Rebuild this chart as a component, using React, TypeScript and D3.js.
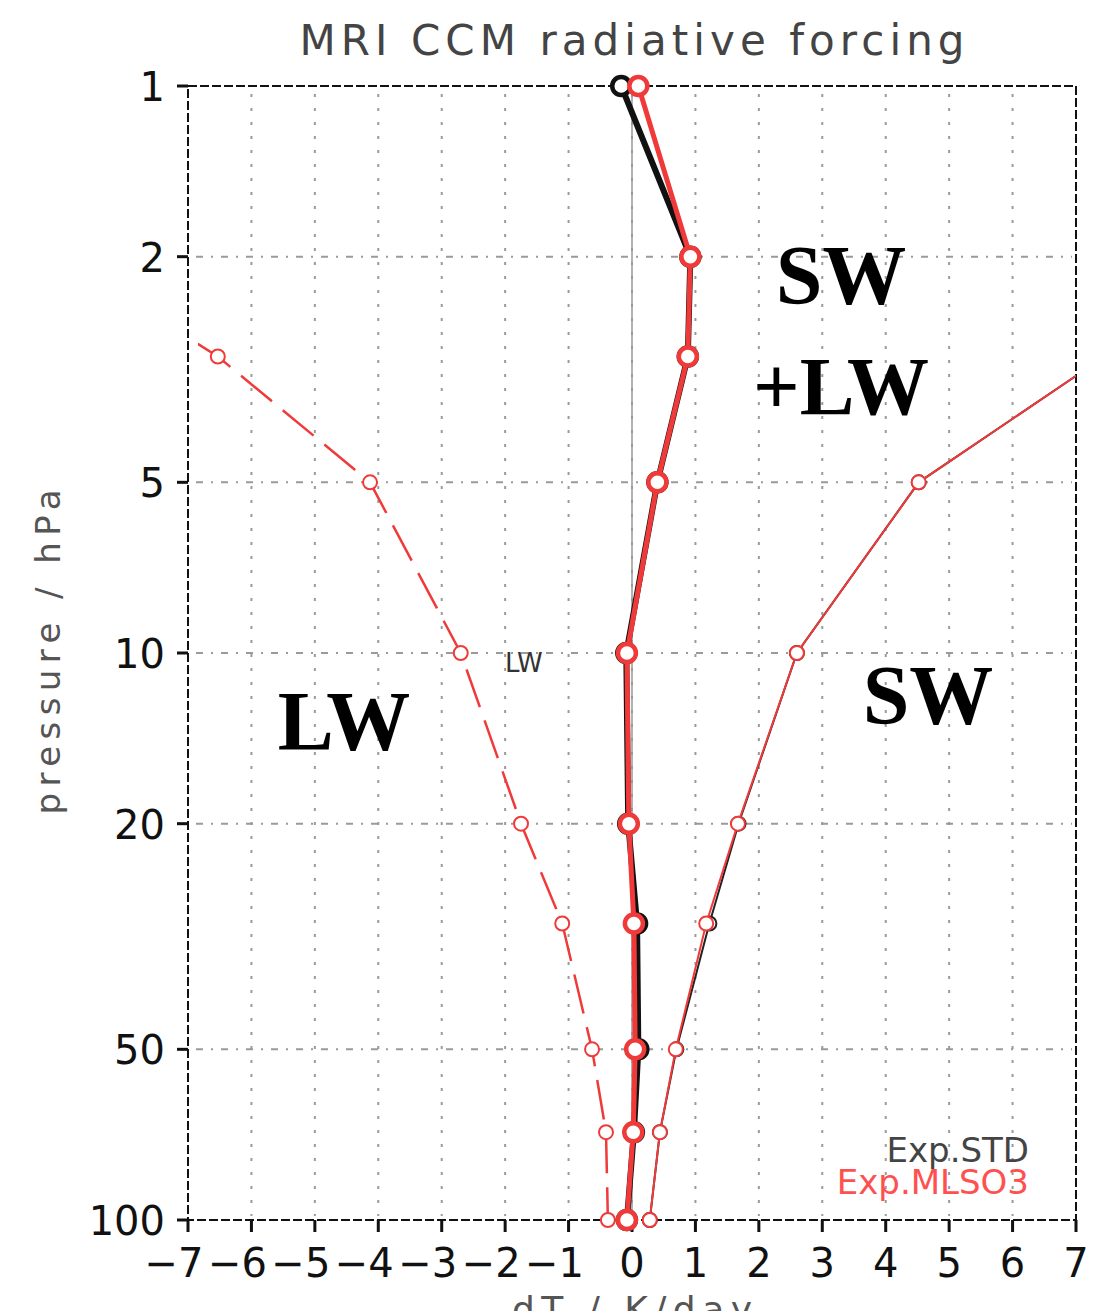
import React from "react";
import * as d3 from "d3";

const pressureLevels = [1, 2, 3, 5, 10, 20, 30, 50, 70, 100];
const totalSTD = [-0.17, 0.92, 0.88, 0.4, -0.09, -0.06, 0.08, 0.1, 0.03, -0.08];
const totalMLSO3 = [0.1, 0.92, 0.88, 0.4, -0.08, -0.05, 0.03, 0.05, 0.02, -0.08];
const swSTD = [null, null, 7.45, 4.52, 2.6, 1.68, 1.22, 0.7, 0.44, 0.28];
const swMLSO3 = [null, null, 7.45, 4.52, 2.6, 1.67, 1.17, 0.69, 0.44, 0.28];
const lwMLSO3 = [null, -9.0, -6.53, -4.13, -2.7, -1.75, -1.1, -0.63, -0.41, -0.38];
const xTicks = [-7, -6, -5, -4, -3, -2, -1, 0, 1, 2, 3, 4, 5, 6, 7];
const yTicks = [1, 2, 5, 10, 20, 50, 100];

const RED = "#f03a3a";

export default function App() {
  const left = 188, right = 1076, top = 86, bottom = 1220;
  const x = d3.scaleLinear().domain([-7, 7]).range([left, right]);
  const y = d3.scaleLog().domain([1, 100]).range([top, bottom]);

  const mk = (vals: (number | null)[]) =>
    pressureLevels
      .map((p, i) => ({ p, v: vals[i] }))
      .filter((d) => d.v !== null) as { p: number; v: number }[];

  const line = d3
    .line<{ p: number; v: number }>()
    .x((d) => x(d.v))
    .y((d) => y(d.p));

  const inside = (d: { p: number; v: number }) => d.v >= -7 && d.v <= 7;

  const series = (
    vals: (number | null)[],
    color: string,
    sw: number,
    r: number,
    msw: number,
    dash?: string
  ) => {
    const pts = mk(vals);
    return (
      <g>
        <path
          d={line(pts) || ""}
          fill="none"
          stroke={color}
          strokeWidth={sw}
          strokeDasharray={dash}
          clipPath="url(#plotclip)"
        />
        {pts.filter(inside).map((d, i) => (
          <circle
            key={i}
            cx={x(d.v)}
            cy={y(d.p)}
            r={r}
            fill="white"
            stroke={color}
            strokeWidth={msw}
          />
        ))}
      </g>
    );
  };

  const numFont = "DejaVu Sans, sans-serif";

  return (
    <svg
      width={1095}
      height={1311}
      style={{ position: "absolute", left: 0, top: 0, background: "white" }}
    >
      <defs>
        <clipPath id="plotclip">
          <rect x={left + 10} y={top - 10} width={right - left - 10} height={bottom - top + 20} />
        </clipPath>
      </defs>
      <rect x={0} y={0} width={1095} height={1311} fill="white" />

      {/* title */}
      <text
        x={632}
        y={55}
        textAnchor="middle"
        fontFamily={numFont}
        fontSize={42}
        fill="#444"
        textLength={665}
        lengthAdjust="spacing"
      >
        MRI CCM radiative forcing
      </text>

      {/* grid */}
      {xTicks
        .filter((t) => t !== -7 && t !== 7)
        .map((t) => (
          <line
            key={"gx" + t}
            x1={x(t)}
            x2={x(t)}
            y1={top + 8}
            y2={bottom - 4}
            stroke="#9a9a9a"
            strokeWidth={2}
            strokeDasharray="3,11"
          />
        ))}
      {yTicks
        .filter((t) => t !== 1 && t !== 100)
        .map((t) => (
          <line
            key={"gy" + t}
            x1={left + 8}
            x2={right - 4}
            y1={y(t)}
            y2={y(t)}
            stroke="#9a9a9a"
            strokeWidth={2}
            strokeDasharray="7,8,2,8"
          />
        ))}

      {/* zero line */}
      <line x1={x(0)} x2={x(0)} y1={top} y2={bottom} stroke="#999" strokeWidth={1.5} />

      {/* frame */}
      <rect
        x={left}
        y={top}
        width={right - left}
        height={bottom - top}
        fill="none"
        stroke="#111"
        strokeWidth={2}
        strokeDasharray="9,3"
      />

      {/* ticks */}
      {yTicks.map((t) => (
        <g key={"yt" + t}>
          <line x1={left - 11} x2={left} y1={y(t)} y2={y(t)} stroke="#111" strokeWidth={3} />
          <text
            x={165}
            y={y(t) + 15}
            textAnchor="end"
            fontFamily={numFont}
            fontSize={40}
            fill="#111"
          >
            {t}
          </text>
        </g>
      ))}
      {xTicks.map((t) => (
        <g key={"xt" + t}>
          <line x1={x(t)} x2={x(t)} y1={bottom} y2={bottom + 12} stroke="#111" strokeWidth={3} />
          <text
            x={x(t) - (t < 0 ? 14 : 0)}
            y={bottom + 57}
            textAnchor="middle"
            fontFamily={numFont}
            fontSize={40}
            fill="#111"
          >
            {t < 0 ? "\u2212" + Math.abs(t) : String(t)}
          </text>
        </g>
      ))}

      {/* axis labels */}
      <text
        x={632}
        y={1322}
        textAnchor="middle"
        fontFamily={numFont}
        fontSize={36}
        fill="#555"
        textLength={240}
        lengthAdjust="spacing"
      >
        dT / K/day
      </text>
      <text
        transform="translate(60,652) rotate(-90)"
        textAnchor="middle"
        fontFamily={numFont}
        fontSize={34}
        fill="#555"
        textLength={325}
        lengthAdjust="spacing"
      >
        pressure / hPa
      </text>

      {/* series */}
      {series(swSTD, "#222", 2, 7, 2)}
      {series(swMLSO3, RED, 2, 7, 2)}
      {series(lwMLSO3, RED, 2.5, 7, 2, "40,14")}
      {series(totalSTD, "#111", 6, 9, 4.5)}
      {series(totalMLSO3, RED, 5, 9, 4.5)}

      {/* small LW label */}
      <text x={505} y={672} fontFamily={numFont} fontSize={26} fill="#333">
        LW
      </text>

      {/* big annotations */}
      <g fontFamily="Liberation Serif, DejaVu Serif, serif" fontWeight="bold" fill="#000">
        <text x={841} y={304} textAnchor="middle" fontSize={84}>
          SW
        </text>
        <text x={841} y={414} textAnchor="middle" fontSize={82}>
          +LW
        </text>
        <text x={928} y={724} textAnchor="middle" fontSize={84}>
          SW
        </text>
        <text x={344} y={750} textAnchor="middle" fontSize={84}>
          LW
        </text>
      </g>

      {/* legend */}
      <text
        x={1029}
        y={1162}
        textAnchor="end"
        fontFamily={numFont}
        fontSize={34}
        fill="#444"
      >
        Exp.STD
      </text>
      <text
        x={1029}
        y={1194}
        textAnchor="end"
        fontFamily={numFont}
        fontSize={34}
        fill="#ff5050"
      >
        Exp.MLSO3
      </text>
    </svg>
  );
}
